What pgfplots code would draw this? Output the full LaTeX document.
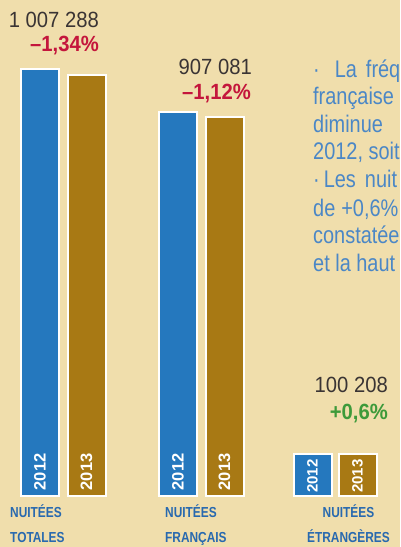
\documentclass[border=0pt]{standalone}
\usepackage{pgfplots}
\pgfplotsset{compat=1.18}
\usepackage{fontspec}
\setmainfont{Liberation Sans}
\newfontfamily\numf[FakeStretch=0.92]{Liberation Sans}
\newfontfamily\pctf[FakeStretch=0.92]{Liberation Sans}
\newfontfamily\labf[FakeStretch=0.82]{Liberation Sans}
\newfontfamily\parf[FakeStretch=0.83]{Liberation Sans}
\definecolor{bg}{RGB}{240,222,172}
\definecolor{b12}{RGB}{37,120,190}
\definecolor{g13}{RGB}{168,121,20}
\definecolor{numc}{RGB}{58,52,52}
\definecolor{redc}{RGB}{196,22,60}
\definecolor{grnc}{RGB}{61,154,58}
\definecolor{labc}{RGB}{40,105,175}
\definecolor{parc}{RGB}{75,135,198}
\begin{document}
\begin{tikzpicture}[x=1pt,y=1pt,
  yearlab/.style={rotate=90, anchor=west, inner sep=0pt, text=white,
    font=\bfseries\fontsize{16.5}{16.5}\selectfont},
  yearsm/.style={rotate=90, anchor=west, inner sep=0pt, text=white,
    font=\bfseries\fontsize{15}{15}\selectfont}]
\path[use as bounding box] (0,0) rectangle (400,547);
\fill[bg] (0,0) rectangle (400,547);
\begin{scope}
\clip (0,0) rectangle (400,547);
\begin{axis}[at={(0pt,51pt)}, anchor=south west, scale only axis,
  width=400pt, height=496pt, xmin=0, xmax=400, ymin=0, ymax=1186000,
  axis line style={draw=none}, major tick length=0pt, ytick=\empty,
  xtick={10,165,307},
  xticklabels={{\begin{tabular}[t]{@{}l@{}}NUITÉES\\TOTALES\end{tabular}},
               {\begin{tabular}[t]{@{}l@{}}NUITÉES\\FRANÇAIS\end{tabular}},
               {\begin{tabular}[t]{@{}c@{}}NUITÉES\\ÉTRANGÈRES\end{tabular}}},
  xticklabel style={anchor=north west, inner sep=0pt, yshift=-3.5pt,
    text=labc, font=\labf\bfseries\fontsize{14.5}{25}\selectfont},
  clip=false, ybar, bar width=38pt, /pgf/bar shift=0pt]
\addplot[fill=b12, draw=white, line width=2pt] coordinates {(40,1020969) (178,917356) (312.5,99610)};
\addplot[fill=g13, draw=white, line width=2pt] coordinates {(86.5,1007288) (224.5,907081) (357.5,100208)};
\node[yearlab] at ([yshift=5.5pt]axis cs:40,0) {2012};
\node[yearlab] at ([yshift=5.5pt]axis cs:86.5,0) {2013};
\node[yearlab] at ([yshift=5.5pt]axis cs:178,0) {2012};
\node[yearlab] at ([yshift=5.5pt]axis cs:224.5,0) {2013};
\node[yearsm] at ([yshift=3pt]axis cs:312.5,0) {2012};
\node[yearsm] at ([yshift=3pt]axis cs:357.5,0) {2013};
\end{axis}
% values
\node[anchor=base east, inner sep=0pt, text=numc, font=\numf\fontsize{22}{22}\selectfont] at (99,519) {1 007 288};
\node[anchor=base east, inner sep=0pt, text=redc, font=\pctf\bfseries\fontsize{22}{22}\selectfont] at (99,495) {–1,34\%};
\node[anchor=base east, inner sep=0pt, text=numc, font=\numf\fontsize{22}{22}\selectfont] at (252,472) {907 081};
\node[anchor=base east, inner sep=0pt, text=redc, font=\pctf\bfseries\fontsize{22}{22}\selectfont] at (251,447) {–1,12\%};
\node[anchor=base east, inner sep=0pt, text=numc, font=\numf\fontsize{22}{22}\selectfont] at (388,154) {100 208};
\node[anchor=base east, inner sep=0pt, text=grnc, font=\pctf\bfseries\fontsize{22}{22}\selectfont] at (388,127) {+0,6\%};
% paragraph (cropped at the right edge, as in the reference)
\begin{scope}[every node/.style={anchor=base west, inner sep=0pt, text=parc, font=\parf\fontsize{24}{28}\selectfont}]
\node at (313,469) {·\hspace{15pt}La\hspace{9pt}fréq};
\node at (313,442) {française};
\node at (313,414) {diminue};
\node at (313,387) {2012, soit};
\node at (313,359) {·\hspace{4pt}Les\hspace{9pt}nuit};
\node at (313,330) {de\hspace{6pt}+0,6\%};
\node at (313,303) {constatée};
\node at (313,275) {et la haut};
\end{scope}
\end{scope}
\end{tikzpicture}
\end{document}
